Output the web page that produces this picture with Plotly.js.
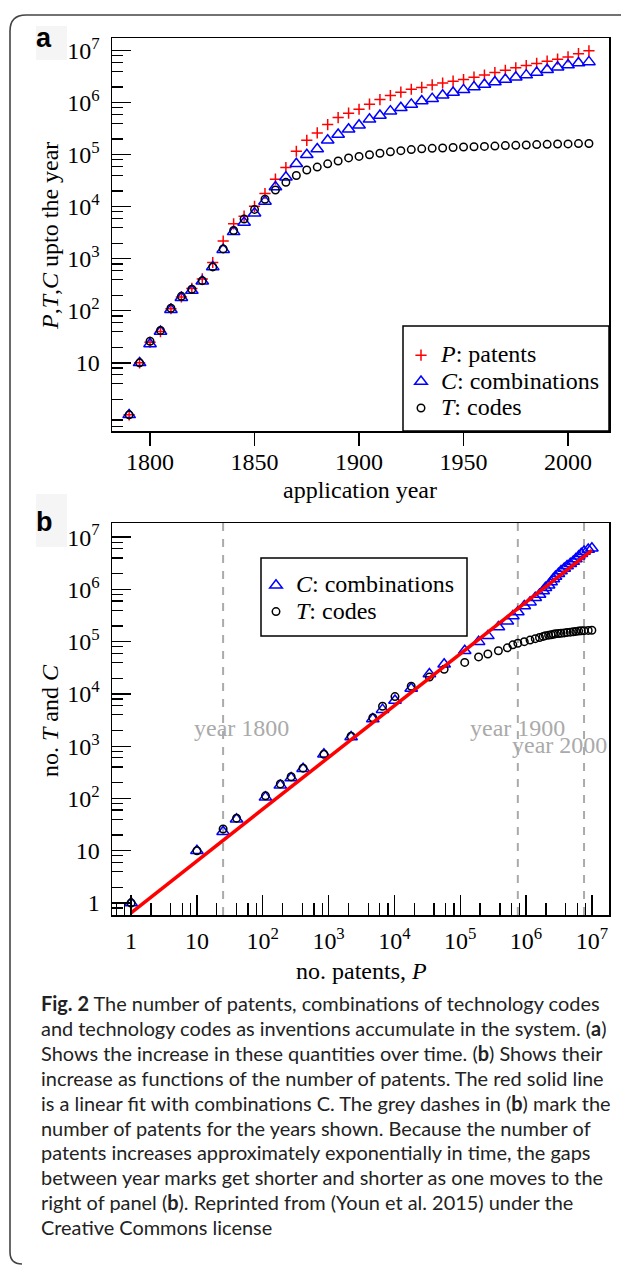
<!DOCTYPE html>
<html><head><meta charset="utf-8">
<script src="https://cdn.plot.ly/plotly-3.0.1.min.js"></script>
<style>html,body{margin:0;padding:0;background:#fff;} #chart{width:621px;height:1265px;}</style>
</head><body><div id="chart"></div>
<script>
// ---------- data ----------
const years = [1790,1795,1800,1805,1810,1815,1820,1825,1830,1835,1840,1845,1850,1855,1860,1865,1870,1875,1880,1885,1890,1895,1900,1905,1910,1915,1920,1925,1930,1935,1940,1945,1950,1955,1960,1965,1970,1975,1980,1985,1990,1995,2000,2005,2010];
const patents = [1,10,25,40,110,185,270,410,850,2200,4700,6600,10200,18000,34000,57000,117000,190000,263000,380000,520000,630000,750000,940000,1150000,1380000,1600000,1820000,1970000,2200000,2400000,2600000,2800000,3100000,3400000,3800000,4200000,4700000,5200000,5700000,6300000,6900000,7600000,8800000,10000000];
const combinations = [1,10,23,40,105,178,245,370,700,1500,3300,5000,7500,12700,24000,37000,67000,100000,129000,190000,245000,310000,370000,480000,570000,690000,800000,930000,1080000,1200000,1390000,1580000,1770000,2000000,2250000,2500000,2800000,3100000,3400000,3800000,4300000,4800000,5300000,5800000,6100000];
const codes = [1,10,26,42,112,190,260,380,700,1550,3500,5800,8900,14000,21000,29500,40000,51000,58000,67000,76000,87000,93000,100000,107000,114000,120000,126000,130000,133000,135000,138000,141000,143000,145000,147000,150000,152000,154000,157000,159000,161000,162000,164000,165000];
const fitP = [1, 10000000];
const fitC = [0.65, 5600000];
const markYears = [1800, 1900, 2000];
const yearTicksA = [1800, 1850, 1900, 1950, 2000];
const logTickVals = [1,10,100,1000,10000,100000,1000000,10000000];
const logTickText = ['1','10','10<sup>2</sup>','10<sup>3</sup>','10<sup>4</sup>','10<sup>5</sup>','10<sup>6</sup>','10<sup>7</sup>'];
const captionLines = [
  '<b>Fig. 2</b> The number of patents, combinations of technology codes',
  'and technology codes as inventions accumulate in the system. (<b>a</b>)',
  'Shows the increase in these quantities over time. (<b>b</b>) Shows their',
  'increase as functions of the number of patents. The red solid line',
  'is a linear fit with combinations C. The grey dashes in (<b>b</b>) mark the',
  'number of patents for the years shown. Because the number of',
  'patents increases approximately exponentially in time, the gaps',
  'between year marks get shorter and shorter as one moves to the',
  'right of panel (<b>b</b>). Reprinted from (Youn et al. 2015) under the',
  'Creative Commons license'
];

// ---------- layout helpers ----------
const W = 621, H = 1265;
const px = x => x / W;
const py = y => 1 - y / H;
const SERIF = 'Liberation Serif';
const FS = 24;
const rangeAy = [-0.31, 7.245], rangeBx = [-0.29, 7.26], rangeBy = [-0.23, 7.27];

const minorVals = [];
for (let d = -1; d <= 7; d++) for (const k of [2,4,6,8]) minorVals.push(k * Math.pow(10, d));

function captionSize() {
  try {
    const c = document.createElement('canvas').getContext('2d');
    c.font = 'bold 100px Lato'; let w = c.measureText('Fig. 2').width;
    c.font = '100px Lato'; w += c.measureText(' The number of patents, combinations of technology codes').width;
    if (w > 0) return 100 * 561 / w;
  } catch (e) {}
  return 18;
}
const capSize = captionSize();

const tickFont = {family: SERIF, size: FS, color: '#000'};
const axisLine = {showline: true, linecolor: '#000', linewidth: 1.5, mirror: true, showgrid: false, zeroline: false, tickcolor: '#000', tickwidth: 1.3, tickfont: tickFont};
const minorIn = {tickmode: 'array', tickvals: minorVals, ticks: 'inside', ticklen: 11, tickcolor: '#000', tickwidth: 1.3, showgrid: false};

const pAt = y => patents[years.indexOf(y)];
const big = s => '<span style="font-size:' + FS + 'px">' + s + '</span>';

const traces = [
  {x: years, y: patents, xaxis: 'x', yaxis: 'y', mode: 'markers', name: big('<i>P</i>: patents'), legend: 'legend',
   marker: {symbol: 'cross-thin-open', size: 8, color: '#ff0000', line: {color: '#ff0000', width: 1.5}}},
  {x: years, y: combinations, xaxis: 'x', yaxis: 'y', mode: 'markers', name: big('<i>C</i>: combinations'), legend: 'legend',
   marker: {symbol: 'triangle-up-open', size: 11, color: '#0000ff', line: {color: '#0000ff', width: 1.5}}},
  {x: years, y: codes, xaxis: 'x', yaxis: 'y', mode: 'markers', name: big('<i>T</i>: codes'), legend: 'legend',
   marker: {symbol: 'circle-open', size: 7.5, color: '#000', line: {color: '#000', width: 1.5}}}
];
markYears.forEach(yr => traces.push({
  x: [pAt(yr), pAt(yr)], y: [Math.pow(10, rangeBy[0]), Math.pow(10, rangeBy[1])], xaxis: 'x2', yaxis: 'y2',
  mode: 'lines', showlegend: false, line: {color: '#aaaaaa', width: 2, dash: '8px,8px'}
}));
traces.push(
  {x: patents, y: combinations, xaxis: 'x2', yaxis: 'y2', mode: 'markers', name: big('<i>C</i>: combinations'), legend: 'legend2',
   marker: {symbol: 'triangle-up-open', size: 11, color: '#0000ff', line: {color: '#0000ff', width: 1.5}}},
  {x: patents, y: codes, xaxis: 'x2', yaxis: 'y2', mode: 'markers', name: big('<i>T</i>: codes'), legend: 'legend2',
   marker: {symbol: 'circle-open', size: 7.5, color: '#000', line: {color: '#000', width: 1.5}}},
  {x: fitP, y: fitC, xaxis: 'x2', yaxis: 'y2', mode: 'lines', showlegend: false, line: {color: '#ff0000', width: 3.5}}
);

function ann(text, x, y, extra) {
  return Object.assign({text: text, x: px(x), y: py(y), xref: 'paper', yref: 'paper', xanchor: 'center', yanchor: 'middle', showarrow: false, font: tickFont}, extra || {});
}
const letterFont = {family: 'Liberation Sans', size: 27, color: '#000'};
const annotations = [
  ann('<b>a</b>', 44, 38, {font: letterFont}),
  ann('<b>b</b>', 44, 522, {font: letterFont}),
  ann('<i>P</i>,<i>T</i>,<i>C</i> upto the year', 50, 236, {textangle: -90}),
  ann('application year', 360, 490),
  ann('no. <i>T</i> and <i>C</i>', 50, 721, {textangle: -90}),
  ann('no. patents, <i>P</i>', 361, 971)
];
const yearLabelShift = [18, 0, -25];
const yearLabelY = [728, 728, 745];
markYears.forEach((yr, i) => annotations.push({
  text: 'year ' + yr, x: Math.log10(pAt(yr)), xref: 'x2', xshift: yearLabelShift[i], y: py(yearLabelY[i]), yref: 'paper',
  xanchor: 'center', yanchor: 'middle', showarrow: false, font: {family: SERIF, size: FS, color: '#aaaaaa'}
}));
captionLines.forEach((t, i) => annotations.push(ann(t, 39, 1003 + i * 24.9,
  {xanchor: 'left', font: {family: 'Lato', size: capSize, color: '#222'}})));

const shapes = [
  {type: 'rect', xref: 'paper', yref: 'paper', x0: px(36), x1: px(67), y0: py(26), y1: py(60), fillcolor: '#f5f5f5', line: {width: 0}, layer: 'below'},
  {type: 'rect', xref: 'paper', yref: 'paper', x0: px(36), x1: px(67), y0: py(494), y1: py(547), fillcolor: '#f5f5f5', line: {width: 0}, layer: 'below'},
  {type: 'path', xref: 'paper', yref: 'paper', line: {color: '#444', width: 1.6},
   path: `M ${px(630)} ${py(15)} L ${px(26)} ${py(15)} Q ${px(10)} ${py(15)} ${px(10)} ${py(31)} L ${px(10)} ${py(1252)} Q ${px(10)} ${py(1264)} ${px(22)} ${py(1264)}`},
  {type: 'rect', xref: 'paper', yref: 'paper', x0: px(403), x1: px(609), y0: py(326), y1: py(431), fillcolor: '#fff', line: {color: '#000', width: 1.5}, layer: 'above'},
  {type: 'rect', xref: 'paper', yref: 'paper', x0: px(261), x1: px(467), y0: py(558), y1: py(636), fillcolor: '#fff', line: {color: '#000', width: 1.5}, layer: 'above'}
];

const legendBase = {xanchor: 'left', yanchor: 'top', bgcolor: 'rgba(0,0,0,0)', borderwidth: 0,
  font: {family: SERIF, size: 18, color: '#000'}, tracegroupgap: 0, itemwidth: 30};

const layout = {
  width: W, height: H, margin: {l: 0, r: 0, t: 0, b: 0}, paper_bgcolor: '#fff', plot_bgcolor: 'rgba(0,0,0,0)',
  font: {family: SERIF, color: '#000'},
  xaxis: Object.assign({}, axisLine, {domain: [px(112), px(609)], range: [1781.8, 2019.6], anchor: 'y',
    tickmode: 'array', tickvals: yearTicksA, ticks: 'outside', ticklen: 13, ticklabelstandoff: -4}),
  yaxis: Object.assign({}, axisLine, {domain: [py(431), py(38)], type: 'log', range: rangeAy, anchor: 'x',
    tickmode: 'array', tickvals: logTickVals.slice(1), ticktext: logTickText.slice(1), ticks: 'inside', ticklen: 19,
    ticklabelstandoff: 6, minor: minorIn}),
  xaxis2: Object.assign({}, axisLine, {domain: [px(112), px(609)], type: 'log', range: rangeBx, anchor: 'y2',
    tickmode: 'array', tickvals: logTickVals, ticktext: logTickText, ticks: 'inside', ticklen: 20,
    ticklabelstandoff: 4, minor: Object.assign({}, minorIn, {ticklen: 12})}),
  yaxis2: Object.assign({}, axisLine, {domain: [py(915), py(523)], type: 'log', range: rangeBy, anchor: 'x2',
    tickmode: 'array', tickvals: logTickVals, ticktext: logTickText, ticks: 'inside', ticklen: 19,
    ticklabelstandoff: 6, minor: minorIn}),
  legend: Object.assign({}, legendBase, {x: px(401), y: py(337)}),
  legend2: Object.assign({}, legendBase, {x: px(256), y: py(567)}),
  shapes: shapes,
  annotations: annotations
};

Plotly.newPlot('chart', traces, layout, {staticPlot: true, displayModeBar: false});
</script>
</body></html>
